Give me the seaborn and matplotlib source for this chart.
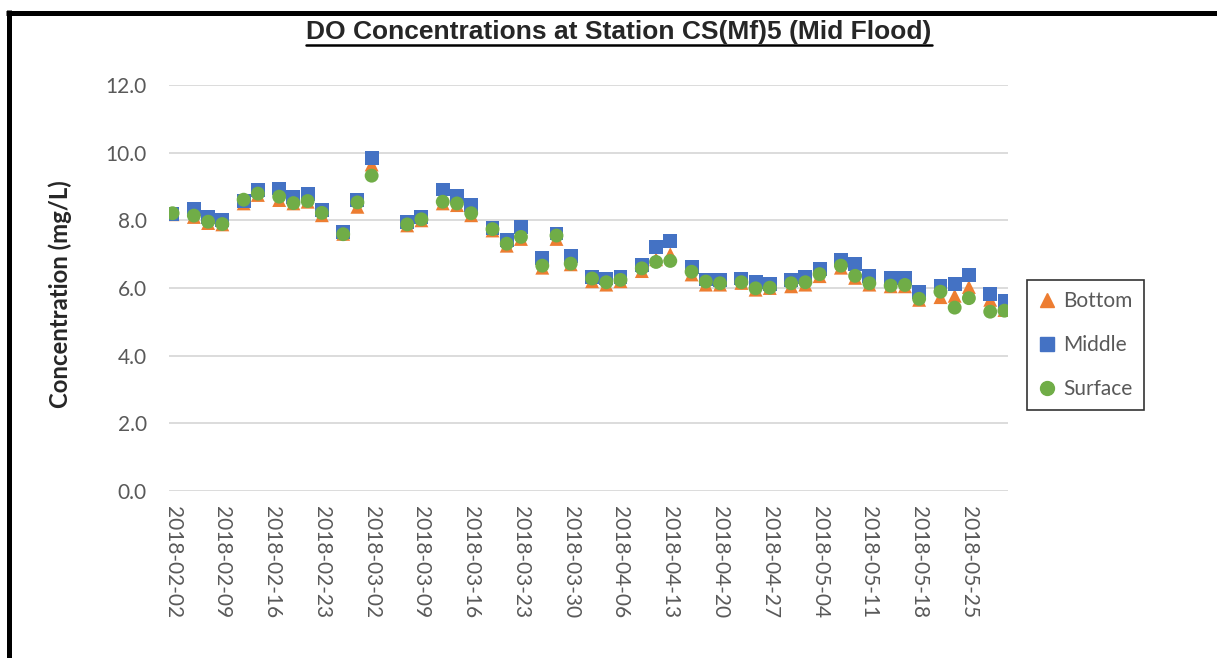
import matplotlib
matplotlib.use("Agg")
import pandas as pd
import seaborn as sns
import matplotlib.pyplot as plt
import matplotlib.dates as mdates
from matplotlib.lines import Line2D

# sampling dates (Mon / Wed / Fri)
dates = [
    "2018-02-02", "2018-02-05", "2018-02-07", "2018-02-09", "2018-02-12", "2018-02-14",
    "2018-02-17", "2018-02-19", "2018-02-21", "2018-02-23", "2018-02-26", "2018-02-28",
    "2018-03-02", "2018-03-07", "2018-03-09", "2018-03-12", "2018-03-14", "2018-03-16",
    "2018-03-19", "2018-03-21", "2018-03-23", "2018-03-26", "2018-03-28", "2018-03-30",
    "2018-04-02", "2018-04-04", "2018-04-06", "2018-04-09", "2018-04-11", "2018-04-13",
    "2018-04-16", "2018-04-18", "2018-04-20", "2018-04-23", "2018-04-25", "2018-04-27",
    "2018-04-30", "2018-05-02", "2018-05-04", "2018-05-07", "2018-05-09", "2018-05-11",
    "2018-05-14", "2018-05-16", "2018-05-18", "2018-05-21", "2018-05-23", "2018-05-25",
    "2018-05-28", "2018-05-30",
]
bottom = [
    8.18, 8.10, 7.92, 7.88, 8.50, 8.75, 8.60, 8.50, 8.55, 8.15, 7.60, 8.40,
    9.65, 7.85, 8.00, 8.50, 8.45, 8.15, 7.70, 7.25, 7.45, 6.60, 7.45, 6.70,
    6.20, 6.10, 6.20, 6.50, 6.85, 7.00, 6.40, 6.10, 6.10, 6.15, 5.95, 6.00,
    6.05, 6.10, 6.35, 6.60, 6.30, 6.10, 6.05, 6.05, 5.65, 5.73, 5.77, 6.03,
    5.65, 5.35,
]
middle = [
    8.20, 8.33, 8.09, 8.01, 8.57, 8.89, 8.94, 8.69, 8.77, 8.30, 7.66, 8.61,
    9.83, 7.94, 8.10, 8.91, 8.71, 8.45, 7.78, 7.41, 7.80, 6.88, 7.61, 6.94,
    6.33, 6.28, 6.33, 6.67, 7.21, 7.38, 6.62, 6.25, 6.23, 6.28, 6.18, 6.13,
    6.23, 6.33, 6.55, 6.82, 6.70, 6.36, 6.30, 6.30, 5.87, 6.05, 6.11, 6.39,
    5.81, 5.62,
]
surface = [
    8.21, 8.14, 7.96, 7.89, 8.61, 8.79, 8.70, 8.51, 8.57, 8.22, 7.59, 8.53,
    9.32, 7.88, 8.03, 8.55, 8.50, 8.21, 7.74, 7.31, 7.51, 6.66, 7.55, 6.72,
    6.28, 6.17, 6.24, 6.58, 6.77, 6.80, 6.48, 6.19, 6.14, 6.17, 5.99, 6.01,
    6.14, 6.17, 6.41, 6.66, 6.36, 6.14, 6.07, 6.09, 5.68, 5.89, 5.42, 5.70,
    5.30, 5.33,
]
depths = ["Bottom", "Middle", "Surface"]
colors = ["#ED7D31", "#4472C4", "#70AD47"]
markers = ["^", "s", "o"]

df = pd.DataFrame({"Date": pd.to_datetime(dates), "Bottom": bottom,
                   "Middle": middle, "Surface": surface})
long_df = df.melt(id_vars="Date", var_name="Depth", value_name="DO")

sns.set_style("white")
plt.rcParams["font.family"] = ["Lato", "DejaVu Sans"]

fig = plt.figure(figsize=(12.17, 6.58), dpi=100)
ax = fig.add_axes([169 / 1217, 1 - 491 / 658, 839 / 1217, 406 / 658])

sns.scatterplot(data=long_df, x="Date", y="DO", hue="Depth", style="Depth",
                palette=dict(zip(depths, colors)),
                markers=dict(zip(depths, markers)),
                s=100, linewidth=0, ax=ax, legend=False)

# axes
ax.set_ylim(0, 12)
ax.set_yticks(range(0, 13, 2))
ax.yaxis.set_major_formatter(matplotlib.ticker.FormatStrFormatter("%.1f"))
ax.set_xlim(pd.Timestamp("2018-02-01 12:00"), pd.Timestamp("2018-05-30 12:00"))
ax.set_xticks(pd.date_range("2018-02-02", "2018-05-25", freq="7D"))
ax.xaxis.set_major_formatter(mdates.DateFormatter("%Y-%m-%d"))
ax.tick_params(axis="x", length=0, pad=11, labelsize=15, labelcolor="#595959",
               labelrotation=-90)
ax.tick_params(axis="y", length=0, pad=16, labelsize=15, labelcolor="#595959")
for lbl in ax.get_xticklabels():
    lbl.set_va("top")
    lbl.set_ha("center")
ax.grid(axis="y", color="#D9D9D9", linewidth=1.3)
ax.set_axisbelow(True)
for sp in ax.spines.values():
    sp.set_visible(False)
ax.set_xlabel("")
ax.set_ylabel("")

fig.text(60 / 1217, 1 - 294 / 658, "Concentration (mg/L)", rotation=90,
         ha="center", va="center", fontsize=17.2, fontweight="bold")

# legend
handles = [Line2D([], [], marker=m, color=c, linestyle="", markersize=10)
           for m, c in zip(markers, colors)]
leg = fig.legend(handles, depths, loc="center left",
                 bbox_to_anchor=(1027 / 1217, 1 - 345 / 658), borderaxespad=0,
                 fontsize=15, frameon=True, fancybox=False, handlelength=0.8,
                 handletextpad=0.4, labelspacing=1.15, borderpad=0.55)
leg.get_frame().set_edgecolor("black")
leg.get_frame().set_linewidth(1.2)
for t in leg.get_texts():
    t.set_color("#595959")

# title with underline
title = fig.text(619 / 1217, 1 - 32 / 658,
                 "DO Concentrations at Station CS(Mf)5 (Mid Flood)",
                 ha="center", va="center", fontsize=19, fontweight="bold",
                 family="Liberation Sans")
fig.canvas.draw()
bb = title.get_window_extent().transformed(fig.transFigure.inverted())
fig.add_artist(Line2D([bb.x0, bb.x1], [bb.y0 - 0.001, bb.y0 - 0.001],
                      transform=fig.transFigure, color="black", linewidth=1.8))

# outer frame pieces (left and top)
fig.add_artist(Line2D([8.5 / 1217, 8.5 / 1217], [0, 1 - 10 / 658],
                      transform=fig.transFigure, color="black", linewidth=3.6,
                      solid_capstyle="butt"))
fig.add_artist(Line2D([6 / 1217, 1], [1 - 12.5 / 658, 1 - 12.5 / 658],
                      transform=fig.transFigure, color="black", linewidth=3.6,
                      solid_capstyle="butt"))

fig.savefig("out.png", dpi=100)
